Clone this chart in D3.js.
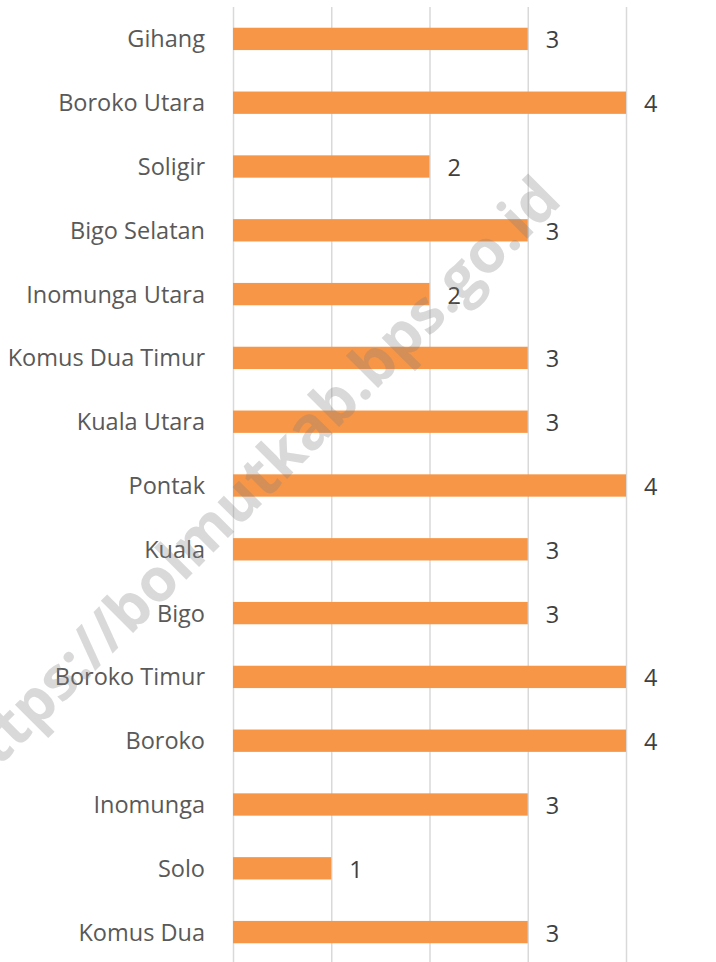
<!DOCTYPE html>
<html>
<head>
<meta charset="utf-8">
<script src="https://cdn.jsdelivr.net/npm/d3@7"></script>
<style>
  body { margin: 0; background: #fff; }
  svg { display: block; }
</style>
</head>
<body>
<div id="chart"></div>
<script>
// villages, top to bottom, and their counts
let villages = ["Gihang", "Boroko Utara", "Soligir", "Bigo Selatan", "Inomunga Utara",
                "Komus Dua Timur", "Kuala Utara", "Pontak", "Kuala", "Bigo",
                "Boroko Timur", "Boroko", "Inomunga", "Solo", "Komus Dua"]
let counts = [3, 4, 2, 3, 2, 3, 3, 4, 3, 3, 4, 4, 3, 1, 3]
let gridTicks = [0, 1, 2, 3, 4]

let width = 716
let height = 962

let svg = d3.select("#chart").append("svg")
  .attr("width", width)
  .attr("height", height)

let xScale = d3.scaleLinear()
  .domain([0, 4])
  .range([233, 626])

let yScale = d3.scaleBand()
  .domain(villages)
  .range([7, 964])
  .paddingInner(0.65)
  .paddingOuter(0.325)

// vertical gridlines
svg.selectAll("line.grid")
  .data(gridTicks)
  .enter()
  .append("line")
  .attr("class", "grid")
  .attr("x1", d => xScale(d) + 0.5)
  .attr("x2", d => xScale(d) + 0.5)
  .attr("y1", 7)
  .attr("y2", height)
  .style("stroke", "#d9d9d9")
  .style("stroke-width", 1.5)

// bars
svg.selectAll("rect.bar")
  .data(counts)
  .enter()
  .append("rect")
  .attr("class", "bar")
  .attr("x", xScale(0))
  .attr("y", (d, i) => yScale(villages[i]))
  .attr("width", d => xScale(d) - xScale(0))
  .attr("height", yScale.bandwidth())
  .style("fill", "#F79646")

// category labels
svg.selectAll("text.cat")
  .data(villages)
  .enter()
  .append("text")
  .attr("class", "cat")
  .attr("x", 205)
  .attr("y", d => yScale(d) + yScale.bandwidth() / 2)
  .attr("dy", "0.36em")
  .attr("text-anchor", "end")
  .style("font-family", "'Open Sans', sans-serif")
  .style("font-size", "23.5px")
  .style("fill", "#595959")
  .text(d => d)

// value labels
svg.selectAll("text.val")
  .data(counts)
  .enter()
  .append("text")
  .attr("class", "val")
  .attr("x", d => xScale(d) + 18)
  .attr("y", (d, i) => yScale(villages[i]) + yScale.bandwidth() / 2)
  .attr("dy", "0.4em")
  .style("font-family", "'Open Sans', sans-serif")
  .style("font-size", "23.5px")
  .style("fill", "#404040")
  .text(d => d)

// watermark
svg.append("text")
  .attr("transform", "translate(-30, 796) rotate(-45)")
  .style("font-family", "'Open Sans', sans-serif")
  .style("font-size", "60px")
  .style("font-weight", "bold")
  .style("fill", "#808080")
  .style("fill-opacity", 0.3)
  .text("https://bolmutkab.bps.go.id")
</script>
</body>
</html>
